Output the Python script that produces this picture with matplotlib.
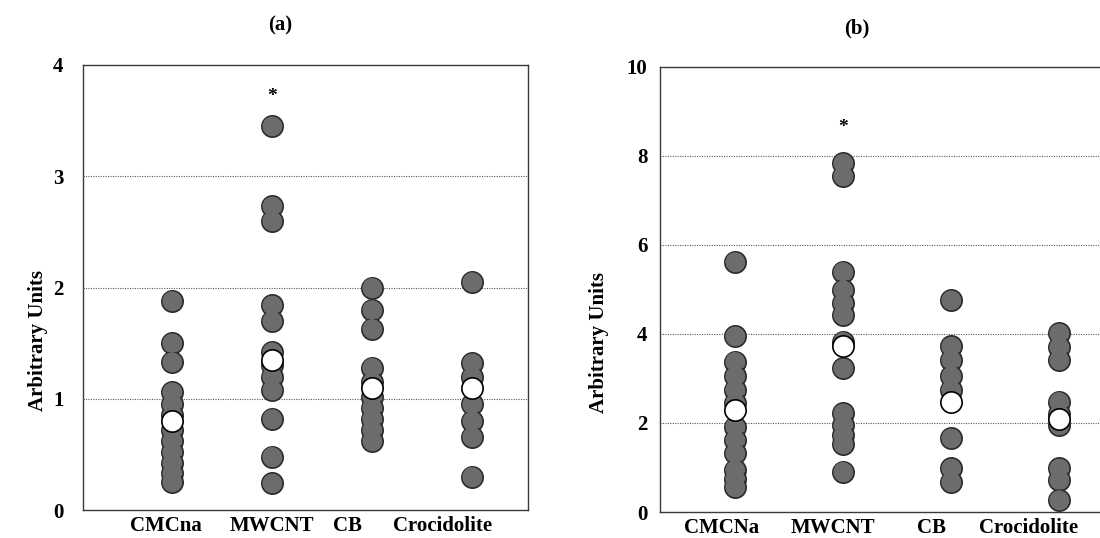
import matplotlib
matplotlib.use("Agg")
import matplotlib.pyplot as plt

# ---------------- data ----------------
categories_a = ["CMCna", "MWCNT", "CB", "Crocidolite"]
categories_b = ["CMCNa", "MWCNT", "CB", "Crocidolite"]

a_cmcna = [1.88, 1.50, 1.33, 1.06, 0.95, 0.85, 0.72, 0.62, 0.52, 0.42, 0.33, 0.25]
a_mwcnt = [3.45, 2.73, 2.60, 1.84, 1.70, 1.42, 1.30, 1.20, 1.08, 0.82, 0.48, 0.24]
a_cb = [2.00, 1.80, 1.63, 1.28, 1.15, 1.02, 0.92, 0.82, 0.72, 0.62]
a_croc = [2.05, 1.32, 1.20, 0.95, 0.80, 0.66, 0.30]
a_means = [0.80, 1.35, 1.10, 1.10]

b_cmcna = [5.62, 3.95, 3.38, 3.05, 2.75, 2.45, 1.92, 1.62, 1.32, 0.95, 0.75, 0.57]
b_mwcnt = [7.84, 7.56, 5.40, 4.99, 4.70, 4.43, 3.83, 3.23, 2.22, 1.95, 1.72, 1.52, 0.91]
b_cb = [4.76, 3.72, 3.42, 3.05, 2.75, 1.66, 0.98, 0.68]
b_croc = [4.02, 3.71, 3.42, 2.48, 2.20, 1.95, 0.98, 0.72, 0.27]
b_means = [2.29, 3.72, 2.48, 2.10]

a_yticks = [0, 1, 2, 3, 4]
b_yticks = [0, 2, 4, 6, 8, 10]
a_star_value = 3.72
b_star_value = 8.65

# ---------------- style ----------------
FONT = "Liberation Serif"
plt.rcParams["font.family"] = [FONT, "DejaVu Serif"]
DOT_FACE = "#6c6c6c"
DOT_EDGE = "#2a2a2a"
DOT_SIZE = 235

fig = plt.figure(figsize=(11.0, 5.38), dpi=100)

def draw_panel(ax, groups, means, cats, yticks, ymax, xlim, label_pos, star):
    for i, vals in enumerate(groups):
        xs = [i + 1] * len(vals)
        # outline layer, then fill layer so touching dots merge
        ax.scatter(xs, vals, s=DOT_SIZE, c=DOT_FACE, edgecolors=DOT_EDGE,
                   linewidths=1.2, zorder=3)
        ax.scatter(xs, vals, s=DOT_SIZE * 0.80, c=DOT_FACE, edgecolors="none",
                   zorder=3.5)
    ax.scatter(range(1, len(means) + 1), means, s=DOT_SIZE, c="white",
               edgecolors="black", linewidths=1.2, zorder=4)
    ax.text(2, star, "*", ha="center", va="center", fontsize=14,
            fontweight="bold", zorder=5)
    for t in yticks[1:-1]:
        ax.axhline(t, color="#5a5a5a", lw=0.8, ls=(0, (1, 1.2)), zorder=1)
    ax.set_ylim(0, ymax)
    ax.set_xlim(*xlim)
    ax.set_yticks(yticks)
    ax.set_yticklabels([str(t) for t in yticks], fontsize=15, fontweight="bold")
    ax.set_xticks(label_pos)
    ax.set_xticklabels(cats, fontsize=15, fontweight="bold")
    ax.tick_params(axis="both", length=0)
    ax.tick_params(axis="x", pad=4)
    for sp in ax.spines.values():
        sp.set_color("#3a3a3a")
        sp.set_linewidth(1.0)
    ax.set_ylabel("Arbitrary Units", fontsize=15, fontweight="bold")

# panel (a)
ax1 = fig.add_axes([83 / 1100, 1 - 510 / 538, 445 / 1100, 445 / 538])
draw_panel(ax1, [a_cmcna, a_mwcnt, a_cb, a_croc], a_means, categories_a,
           a_yticks, 4, (0.11, 4.56), [0.94, 2.0, 2.75, 3.71], a_star_value)
ax1.tick_params(axis="y", pad=14)
ax1.yaxis.set_label_coords(-35 / 445, 0.38)

# panel (b)
ax2 = fig.add_axes([660 / 1100, 1 - 512 / 538, 440 / 1100, 445 / 538])
draw_panel(ax2, [b_cmcna, b_mwcnt, b_cb, b_croc], b_means, categories_b,
           b_yticks, 10, (0.306, 4.38), [0.88, 1.907, 2.824, 3.72], b_star_value)
ax2.spines["right"].set_visible(False)
ax2.tick_params(axis="y", pad=9)
ax2.yaxis.set_label_coords(-51 / 440, 0.38)

fig.text(280 / 1100, 1 - 25 / 538, "(a)", ha="center", va="center",
         fontsize=15, fontweight="bold")
fig.text(857 / 1100, 1 - 28 / 538, "(b)", ha="center", va="center",
         fontsize=15, fontweight="bold")

fig.savefig("out.png", dpi=100, facecolor="white")
